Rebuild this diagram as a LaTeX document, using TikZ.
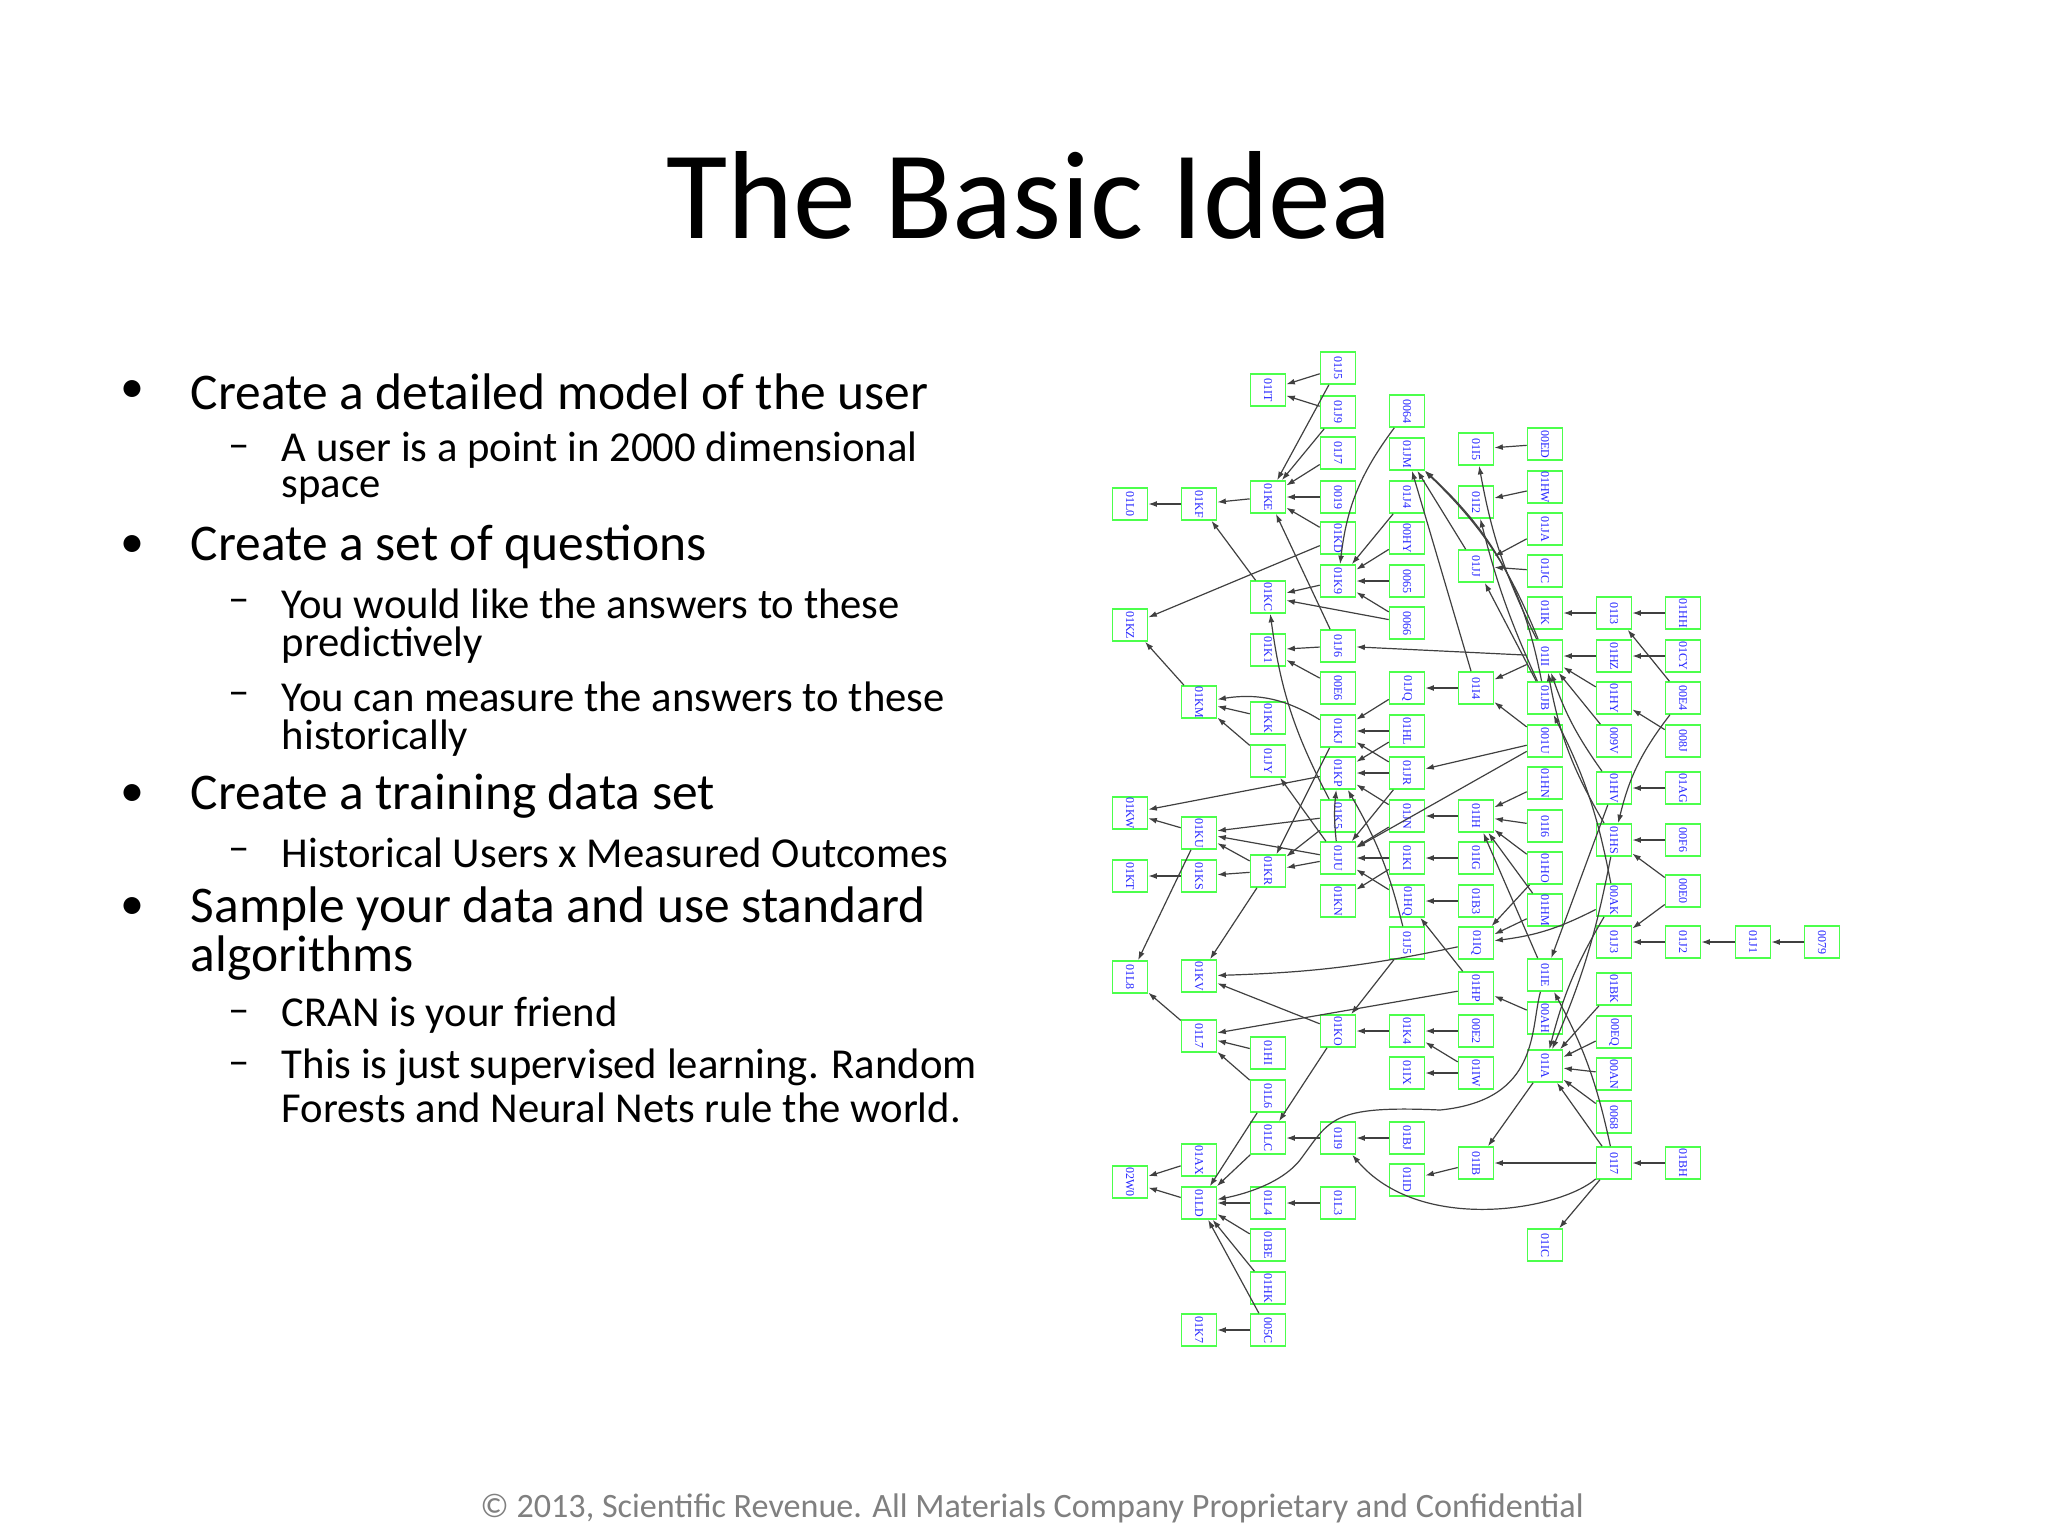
\documentclass[tikz,border=0pt]{standalone}
\usepackage{fontspec}
\setmainfont{Carlito}
\newfontfamily\gfont{Liberation Serif}
\usetikzlibrary{arrows.meta}
\tikzset{
 gn/.style={draw=green!70!white,line width=0.6pt,minimum width=35*0.375pt,minimum height=32*0.375pt,inner sep=0pt,fill=white,
   font=\gfont\fontsize{4.5}{5.5}\selectfont,text=blue!85!white},
 ed/.style={draw=black!75,line width=0.45pt,-{Latex[length=3.2pt,width=2.2pt]}},
 l1/.style={anchor=west,inner sep=0.5pt,font=\fontsize{19.3}{21}\selectfont},
 l2/.style={anchor=west,inner sep=0.5pt,font=\fontsize{16}{18}\selectfont},
}
\newcommand\nd[4]{\node[gn] (n#1) at (#2,#3) {\rotatebox{-90}{#4}};}
\begin{document}
\begin{tikzpicture}[x=0.375pt,y=-0.375pt]
\useasboundingbox (0,0) rectangle (2048,1536);
\node[font=\fontsize{47}{52}\selectfont] (title) at (1029,195) {The Basic Idea};
% bullets
\foreach \y in {392,547,796,909} \node[font=\fontsize{18}{20}\selectfont] at (132,\y) {•};
\foreach \y in {450,604,697,853,1015,1067} \node[font=\fontsize{16}{18}\selectfont] at (239,\y+2) {–};
\node[l1] (b1) at (189,392) {Create a detailed model of the user};
\node[l2] (s1) at (280,450) {A user is a point in 2000 dimensional};
\node[l2] (s1b) at (280,491) {space};
\node[l1] (b2) at (189,547) {Create a set of questions};
\node[l2] (s2) at (280,604) {You would like the answers to these};
\node[l2] (s2b) at (280,645) {predictively};
\node[l2] (s3) at (280,697) {You can measure the answers to these};
\node[l2] (s3b) at (280,738) {historically};
\node[l1] (b3) at (189,796) {Create a training data set};
\node[l2] (s4) at (280,853) {Historical Users x Measured Outcomes};
\node[l1] (b4) at (189,909) {Sample your data and use standard};
\node[l1] (b4b) at (189,958) {algorithms};
\node[l2] (s5) at (280,1015) {CRAN is your friend};
\node[l2] (s6) at (280,1067) {This is just supervised learning. Random};
\node[l2] (s6b) at (280,1108) {Forests and Neural Nets rule the world.};
\node[font=\fontsize{12.8}{14}\selectfont,text=black!50] (foot) at (1032,1508) {© 2013, Scientific Revenue. All Materials Company Proprietary and Confidential};
% graph nodes
\nd{01L0}{1130}{504}{01L0} \nd{01KF}{1199}{504}{01KF} \nd{01KE}{1268}{497}{01KE} \nd{01IT}{1268}{390}{01IT}
\nd{01J5}{1338}{368}{01J5} \nd{01J9}{1338}{412}{01J9} \nd{01J7}{1338}{453}{01J7} \nd{0019}{1338}{497}{0019}
\nd{01KD}{1338}{538}{01KD} \nd{01K9}{1338}{581}{01K9} \nd{01KC}{1268}{597}{01KC} \nd{01KZ}{1130}{625}{01KZ}
\nd{01J6}{1338}{646}{01J6} \nd{01K1}{1268}{650}{01K1} \nd{00E6}{1338}{688}{00E6} \nd{01KM}{1199}{702}{01KM}
\nd{01KK}{1268}{718}{01KK} \nd{01KJ}{1338}{731}{01KJ} \nd{01JY}{1268}{761}{01JY} \nd{01KP}{1338}{773}{01KP}
\nd{01KW}{1130}{813}{01KW} \nd{01K5}{1338}{816}{01K5} \nd{01KU}{1199}{833}{01KU}
\nd{0064}{1407}{411}{0064} \nd{01JM}{1407}{454}{01JM} \nd{01J4}{1407}{497}{01J4} \nd{00HY}{1407}{538}{00HY}
\nd{0065}{1407}{581}{0065} \nd{0066}{1407}{623}{0066} \nd{01JQ}{1407}{688}{01JQ} \nd{01HL}{1407}{731}{01HL}
\nd{01JR}{1407}{773}{01JR} \nd{01JN}{1407}{816}{01JN}
\nd{01I5}{1476}{449}{01I5} \nd{01I2}{1476}{502}{01I2} \nd{01JJ}{1476}{566}{01JJ} \nd{01I4}{1476}{688}{01I4}
\nd{01IH}{1476}{816}{01IH}
\nd{00ED}{1545}{444}{00ED} \nd{01HW}{1545}{487}{01HW} \nd{01JA}{1545}{529}{01JA} \nd{01JC}{1545}{571}{01JC}
\nd{01IK}{1545}{613}{01IK} \nd{01I3}{1614}{613}{01I3} \nd{01HH}{1683}{613}{01HH}
\nd{01II}{1545}{656}{01II} \nd{01HZ}{1614}{656}{01HZ} \nd{01CY}{1683}{656}{01CY}
\nd{01JB}{1545}{698}{01JB} \nd{01HY}{1614}{698}{01HY} \nd{00E4}{1683}{698}{00E4}
\nd{001U}{1545}{741}{001U} \nd{009V}{1614}{741}{009V} \nd{008J}{1683}{741}{008J}
\nd{01HN}{1545}{783}{01HN} \nd{01HV}{1614}{788}{01HV} \nd{01AG}{1683}{788}{01AG}
\nd{01I6}{1545}{826}{01I6} \nd{01HS}{1614}{840}{01HS} \nd{00F6}{1683}{840}{00F6}
\nd{01KT}{1130}{876}{01KT} \nd{01KS}{1199}{876}{01KS} \nd{01KR}{1268}{871}{01KR} \nd{01JU}{1338}{858}{01JU}
\nd{01KI}{1407}{858}{01KI} \nd{01IG}{1476}{858}{01IG} \nd{01KN}{1338}{901}{01KN} \nd{01HQ}{1407}{901}{01HQ}
\nd{01B3}{1476}{901}{01B3} \nd{01J5b}{1407}{943}{01J5} \nd{01IQ}{1476}{943}{01IQ}
\nd{01L8}{1130}{977}{01L8} \nd{01KV}{1199}{976}{01KV} \nd{01HP}{1476}{988}{01HP}
\nd{01L7}{1199}{1036}{01L7} \nd{01KO}{1338}{1031}{01KO} \nd{01K4}{1407}{1031}{01K4} \nd{00E2}{1476}{1031}{00E2}
\nd{01HI}{1268}{1053}{01HI} \nd{01IX}{1407}{1073}{01IX} \nd{01IW}{1476}{1073}{01IW}
\nd{01L6}{1268}{1096}{01L6} \nd{01LC}{1268}{1138}{01LC} \nd{01I9}{1338}{1138}{01I9} \nd{01BJ}{1407}{1138}{01BJ}
\nd{01IB}{1476}{1163}{01IB} \nd{01AX}{1199}{1160}{01AX} \nd{02W0}{1130}{1182}{02W0} \nd{01ID}{1407}{1180}{01ID}
\nd{01LD}{1199}{1203}{01LD} \nd{01L4}{1268}{1203}{01L4} \nd{01L3}{1338}{1203}{01L3}
\nd{01BE}{1268}{1245}{01BE} \nd{01HK}{1268}{1288}{01HK} \nd{01K7}{1199}{1330}{01K7} \nd{005C}{1268}{1330}{005C}
\nd{01HO}{1545}{868}{01HO} \nd{01HM}{1545}{910}{01HM} \nd{00AK}{1614}{900}{00AK} \nd{00E0}{1683}{891}{00E0}
\nd{01J3}{1614}{942}{01J3} \nd{01J2}{1683}{942}{01J2} \nd{01J1}{1753}{942}{01J1} \nd{0079}{1822}{942}{0079}
\nd{01IE}{1545}{975}{01IE} \nd{01BK}{1614}{989}{01BK} \nd{00AH}{1545}{1018}{00AH} \nd{00EQ}{1614}{1032}{00EQ}
\nd{01IA}{1545}{1066}{01IA} \nd{00AN}{1614}{1074}{00AN} \nd{0068}{1614}{1117}{0068}
\nd{01I7}{1614}{1163}{01I7} \nd{01BH}{1683}{1163}{01BH} \nd{01IC}{1545}{1245}{01IC}
% straight edges
\foreach \a/\b in {01J5/01IT,01J9/01IT,01J5/01KE,01J9/01KE,01J7/01KE,0019/01KE,01KD/01KE,01KE/01KF,01KF/01L0,
 01KC/01KF,01J6/01KE,01KD/01KZ,01K9/01KC,0066/01KC,01J4/01K9,00HY/01K9,0065/01K9,0066/01K9,01J6/01K1,00E6/01K1,
 01II/01J6,01KM/01KZ,01KK/01KM,01JY/01KM,01JQ/01KJ,01HL/01KJ,01JR/01KJ,01HL/01KP,01JR/01KP,01JN/01KP,01KP/01KW,
 01KU/01KW,01K5/01KU,01JU/01JY,01KJ/01KR,01JR/01JU,01IH/01JN,001U/01JR,01I4/01JQ,01II/01I4,001U/01I4,01JJ/01JM,
 01I4/01JM,00ED/01I5,01HW/01I2,01JA/01JJ,01JC/01JJ,01JB/01JJ,01I3/01IK,01HH/01I3,01HZ/01II,01CY/01HZ,00E4/01I3,
 01HY/01II,009V/01II,008J/01HY,01AG/01HV,00F6/01HS,01KS/01KT,01KR/01KS,01KR/01KU,01JU/01KU,01JU/01KR,01K5/01KR,
 01JN/01JU,01KI/01KN,01HQ/01JU,01IG/01KI,01B3/01HQ,01KU/01L8,01KR/01KV,01KO/01KV,01J5b/01KO,01HP/01HQ,01HP/01L7,
 01L7/01L8,01HI/01L7,01L6/01L7,01K4/01KO,00E2/01K4,01IW/01K4,01IW/01IX,01KO/01LC,01I9/01LC,01BJ/01I9,01IB/01ID,
 01L6/01LD,01LC/01LD,01AX/02W0,01LD/02W0,01L4/01LD,01L3/01L4,01BE/01LD,01HK/01LD,005C/01LD,005C/01K7,01I7/01IB,
 01BH/01I7,01I7/01IC,01I7/01IA,0068/01IA,00AN/01IA,00EQ/01IA,01BK/01IA,01IA/01IB,01HV/01IE,00AH/01HP,00E0/01HS,
 00E0/01J3,01J2/01J3,01J1/01J2,0079/01J1,01HN/01IH,01I6/01IH,01HO/01IH,01HM/01IH,01IE/01IH,01HO/01IQ,01HM/01IQ,
 01KI/01JU,001U/01JU}
 \draw[ed] (n\a) -- (n\b);
% curved edges
\draw[ed] (n0064) to[bend right=15] (n01K9);
\draw[ed] (n01KJ) to[bend right=20] (n01KM);
\draw[ed] (n01K5) to[bend left=10] (n01KC);
\draw[ed] (n01II) to[bend right=12] (n01JM);
\draw[ed] (n01JB) to[bend right=18] (n01JM);
\draw[ed] (n01II) to[bend left=8] (n01I5);
\draw[ed] (n01JB) to[bend left=5] (n01I2);
\draw[ed] (n00E4) to[bend right=12] (n01HS);
\draw[ed] (n01HV) to[bend left=8] (n01II);
\draw[ed] (n01HS) to[bend left=10] (n01II);
\draw[ed] (n00AK) to[bend right=8] (n01JB);
\draw[ed] (n01IQ) to[bend left=5] (n01KV);
\draw[ed] (n01J5b) to[bend right=8] (n01KP);
\draw[ed] (n01JU) to[bend left=6] (n01KP);
\draw[ed] (n00AK) to[bend left=10] (n01IQ);
\draw[ed] (n00AK) to[bend right=8] (n01IA);
\draw[ed] (n01HS) to[bend left=6] (n01IA);
\draw[ed] (n01I7) to[bend right=8] (n01IE);
\draw[ed] (n01I7) .. controls (1560,1210) and (1420,1235) .. (n01I9);
\draw[ed] (n01IE) .. controls (1530,1030) and (1540,1100) .. (1440,1110) .. controls (1330,1105) and (1330,1120) .. (1300,1160) .. controls (1280,1185) and (1240,1195) .. (n01LD);
\end{tikzpicture}
\end{document}
